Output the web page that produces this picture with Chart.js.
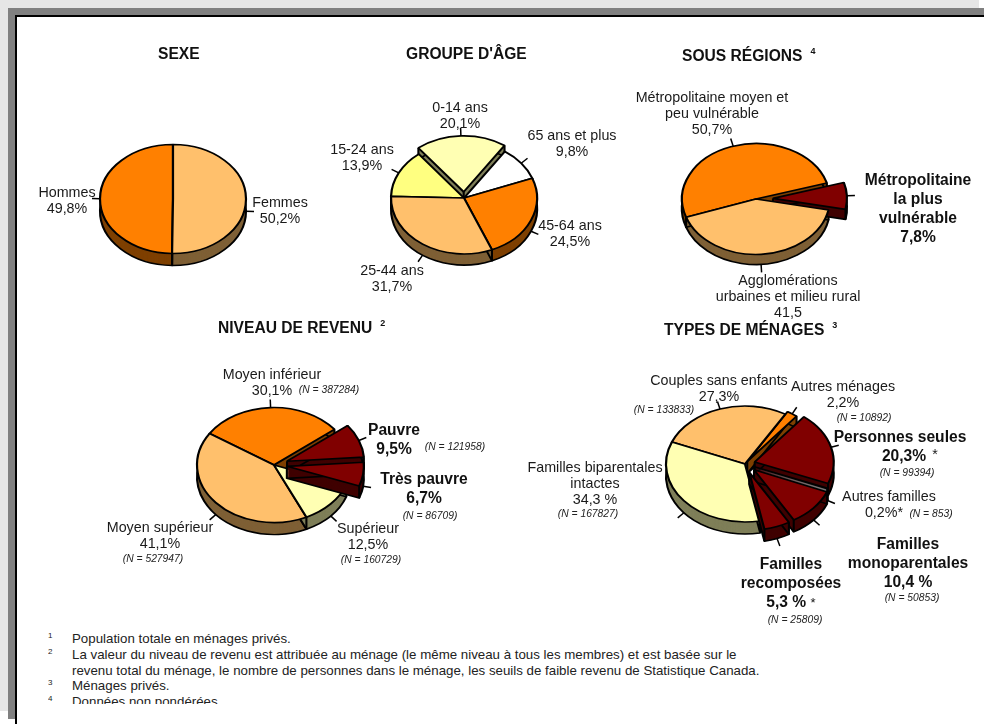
<!DOCTYPE html>
<html lang="fr"><head><meta charset="utf-8">
<script src="https://cdn.jsdelivr.net/npm/chart.js@4"></script>
<style>
html,body{margin:0;padding:0;background:#fff;overflow:hidden}
#page{position:relative;width:984px;height:724px;overflow:hidden;font-family:"Liberation Sans",Arial,sans-serif;color:#1a1a1a}
.b{position:absolute}
canvas{position:absolute}
.t{position:absolute;white-space:nowrap;text-align:center;transform:translateX(-50%);font-size:14.3px;line-height:16px}
.h{font-weight:bold;font-size:15.6px;line-height:19px;color:#111}
.title{position:absolute;white-space:nowrap;font-weight:bold;font-size:15.6px;line-height:18px;color:#111}
.title sup{font-size:9px;position:relative;top:-7px;vertical-align:baseline;margin-left:8px}
.n{position:absolute;white-space:nowrap;font-style:italic;font-size:10.3px;line-height:12px;transform:translateX(-50%);color:#222}
#notes{position:absolute;left:48px;top:631px;width:800px;height:73px;overflow:hidden;font-size:13.3px;line-height:15.8px;color:#222}
#notes div{position:relative;padding-left:24px;white-space:nowrap}
#notes sup{position:absolute;left:0;top:-3px;font-size:8px}
</style></head><body><div id="page">
<div class="b" style="left:0;top:0;width:979px;height:8px;background:#e6e6e6"></div>
<div class="b" style="left:0;top:0;width:8px;height:711px;background:#e6e6e6"></div>
<div class="b" style="left:8px;top:8px;width:976px;height:8px;background:#808080"></div>
<div class="b" style="left:8px;top:8px;width:8px;height:711px;background:#808080"></div>
<div class="b" style="left:15px;top:15px;width:969px;height:2px;background:#000"></div>
<div class="b" style="left:15px;top:15px;width:2px;height:709px;background:#000"></div>
<div id="notes"></div>
</div>
<script>
const ORANGE='#ff8000',PEACH='#ffc06c',PALE='#ffffb3',YELLOW='#ffff80',RED='#800000',WHITE='#ffffff';

const sexeValues=[50.2,49.8];
const sexeLabels=['Femmes','Hommes'];
const sexeColors=[PEACH,ORANGE];
const sexeOffsets=[0,0];

const ageValues=[9.8,24.5,31.7,13.9,20.1];
const ageLabels=['65 ans et plus','45-64 ans','25-44 ans','15-24 ans','0-14 ans'];
const ageColors=[WHITE,ORANGE,PEACH,YELLOW,PALE];
const ageOffsets=[0,0,0,0,8];

const regionValues=[7.8,41.5,50.7];
const regionLabels=['Métropolitaine la plus vulnérable','Agglomérations urbaines et milieu rural','Métropolitaine moyen et peu vulnérable'];
const regionColors=[RED,PEACH,ORANGE];
const regionOffsets=[17,0,0];

const revenuValues=[9.5,6.7,12.5,41.1,30.1];
const revenuLabels=['Pauvre','Très pauvre','Supérieur','Moyen supérieur','Moyen inférieur'];
const revenuColors=[RED,RED,PALE,PEACH,ORANGE];
const revenuOffsets=[14,13,0,0,0];

const menageValues=[27.3,2.2,20.3,0.2,10.4,5.3,34.3];
const menageLabels=['Couples sans enfants','Autres ménages','Personnes seules','Autres familles','Familles monoparentales','Familles recomposées','Familles biparentales intactes'];
const menageColors=[PEACH,ORANGE,RED,WHITE,RED,RED,PALE];
const menageOffsets=[0,4,10,10,12,12,0];

const pies=[
 {labels:sexeLabels,values:sexeValues,colors:sexeColors,offsets:sexeOffsets,rotation:0,cx:173,cy:198.5,rx:73,ry:54.5,depth:12},
 {labels:ageLabels,values:ageValues,colors:ageColors,offsets:ageOffsets,rotation:34,cx:464,cy:198,rx:73,ry:56,depth:11},
 {labels:regionLabels,values:regionValues,colors:regionColors,offsets:regionOffsets,rotation:73.3,cx:756,cy:198.5,rx:74,ry:55.5,depth:10},
 {labels:revenuLabels,values:revenuValues,colors:revenuColors,offsets:revenuOffsets,rotation:51.7,cx:274,cy:464.5,rx:77,ry:57.5,depth:12},
 {labels:menageLabels,values:menageValues,colors:menageColors,offsets:menageOffsets,rotation:292.4,cx:745,cy:464,rx:79,ry:58,depth:12}
];

function darker(c){const n=parseInt(c.slice(1),16);return 'rgb('+((n>>16)>>1)+','+(((n>>8)&255)>>1)+','+((n&255)>>1)+')';}

const pie3d={id:'pie3d',
 beforeDatasetDraw(chart){
  const o=chart.options.plugins.pie3d,ctx=chart.ctx,arcs=chart.getDatasetMeta(0).data,ds=chart.data.datasets[0];
  const k=o.k,d=o.depth,D=d/k;
  const items=arcs.map((a,i)=>{const p=a.getProps(['x','y','startAngle','endAngle','outerRadius'],true);
    const m=(p.startAngle+p.endAngle)/2;const off=ds.explode[i];
    return {a,i,p,m,off,ox:Math.cos(m)*off,oy:Math.sin(m)*off};});
  const cx=arcs[0].x,cy=arcs[0].y;
  const key=it=>Math.sin(it.m)*(it.p.outerRadius/2+it.off);
  items.sort((A,B)=>key(A)-key(B));
  const side=it=>{
    const {p,ox,oy}=it,x=p.x+ox,y=p.y+oy,col=darker(ds.backgroundColor[it.i]);
    const path=(dy)=>{ctx.beginPath();ctx.moveTo(x,y+dy);ctx.arc(x,y+dy,p.outerRadius,p.startAngle,p.endAngle);ctx.closePath();};
    ctx.fillStyle=col;
    for(let s=D;s>=0;s-=0.5){path(s);ctx.fill();}
    ctx.strokeStyle='#000';ctx.lineWidth=2.1;ctx.lineJoin='round';
    path(D);ctx.stroke();
    [p.startAngle,p.endAngle].forEach(t=>{ctx.beginPath();
      const rx=x+Math.cos(t)*p.outerRadius,ry=y+Math.sin(t)*p.outerRadius;
      ctx.moveTo(rx,ry);ctx.lineTo(rx,ry+D);ctx.stroke();});
    ctx.beginPath();ctx.moveTo(x,y);ctx.lineTo(x,y+D);ctx.stroke();
  };
  const top=it=>{ctx.save();ctx.translate(it.ox,it.oy);it.a.draw(ctx,chart.chartArea);ctx.restore();};
  ctx.save();
  ctx.translate(cx,cy);ctx.scale(1,k);ctx.translate(-cx,-cy);
  const fixed=items.filter(it=>!it.off);
  const back=items.filter(it=>it.off&&Math.sin(it.m)<0);
  const front=items.filter(it=>it.off&&Math.sin(it.m)>=0);
  fixed.forEach(side);
  back.forEach(it=>{side(it);top(it);});
  fixed.forEach(top);
  front.forEach(it=>{side(it);top(it);});
  ctx.restore();
  // leader ticks
  ctx.save();ctx.strokeStyle='#000';ctx.lineWidth=1.5;
  items.forEach(it=>{const {p,m,ox,oy}=it;
    const rimx=p.x+ox+Math.cos(m)*p.outerRadius;
    const rimy=cy+(p.y+oy-cy+Math.sin(m)*p.outerRadius)*k+(Math.sin(m)>0?d:0);
    ctx.beginPath();ctx.moveTo(rimx,rimy);ctx.lineTo(rimx+Math.cos(m)*8,rimy+Math.sin(m)*8);ctx.stroke();});
  ctx.restore();
  return false;
 }};

const page=document.getElementById('page');
const W=300,H=300;
pies.forEach(P=>{
  const c=document.createElement('canvas');
  c.style.left=(P.cx-W/2)+'px';c.style.top=(P.cy-H/2)+'px';c.style.width=W+'px';c.style.height=H+'px';
  c.width=W;c.height=H;page.appendChild(c);
  new Chart(c,{type:'pie',plugins:[pie3d],
   data:{labels:P.labels,datasets:[{data:P.values,backgroundColor:P.colors,borderColor:'#000',borderWidth:2.2,explode:P.offsets}]},
   options:{responsive:false,animation:false,radius:P.rx,rotation:P.rotation,layout:{padding:0},events:[],
    plugins:{legend:{display:false},tooltip:{enabled:false},pie3d:{k:P.ry/P.rx,depth:P.depth}}}});
});

function add(cls,x,y,html){const d=document.createElement('div');d.className=cls;d.style.left=x+'px';d.style.top=y+'px';d.innerHTML=html;page.appendChild(d);}
// titles
add('title',158,45,'SEXE');
add('title',406,45,"GROUPE D'ÂGE");
add('title',682,47,'SOUS RÉGIONS<sup>4</sup>');
add('title',218,319,'NIVEAU DE REVENU<sup>2</sup>');
add('title',664,321,'TYPES DE MÉNAGES<sup>3</sup>');
// plain labels
add('t',67,184,'Hommes<br>49,8%');
add('t',280,194,'Femmes<br>50,2%');
add('t',460,99,'0-14 ans<br>20,1%');
add('t',572,127,'65 ans et plus<br>9,8%');
add('t',362,141,'15-24 ans<br>13,9%');
add('t',570,217,'45-64 ans<br>24,5%');
add('t',392,262,'25-44 ans<br>31,7%');
add('t',712,89,'Métropolitaine moyen et<br>peu vulnérable<br>50,7%');
add('t',788,272,'Agglomérations<br>urbaines et milieu rural<br>41,5');
add('h t',918,170,'Métropolitaine<br>la plus<br>vulnérable<br>7,8%');
add('t',272,366,'Moyen inférieur<br>30,1%');
add('t',160,519,'Moyen supérieur<br>41,1%');
add('t',368,520,'Supérieur<br>12,5%');
add('h t',394,420,'Pauvre<br>9,5%');
add('h t',424,469,'Très pauvre<br>6,7%');
add('t',719,372,'Couples sans enfants<br>27,3%');
add('t',843,378,'Autres ménages<br>2,2%');
add('t',595,459,'Familles biparentales<br>intactes<br>34,3 %');
add('h t',900,427,'Personnes seules');
add('h t',904,446,'20,3%');
add('t',935,446,'*');
add('t',889,488,'Autres familles');
add('t',884,504,'0,2%*');
add('h t',908,534,'Familles<br>monoparentales<br>10,4 %');
add('h t',791,554,'Familles<br>recomposées<br>5,3 % <span style="font-weight:normal;font-size:13px">*</span>');
// N labels
add('n',329,384,'(N = 387284)');
add('n',455,441,'(N = 121958)');
add('n',430,510,'(N = 86709)');
add('n',153,553,'(N = 527947)');
add('n',371,554,'(N = 160729)');
add('n',664,404,'(N = 133833)');
add('n',864,412,'(N = 10892)');
add('n',588,508,'(N = 167827)');
add('n',907,467,'(N = 99394)');
add('n',931,508,'(N = 853)');
add('n',912,592,'(N = 50853)');
add('n',795,614,'(N = 25809)');
// footnotes
const footnotes=[
 ['1','Population totale en ménages privés.'],
 ['2','La valeur du niveau de revenu est attribuée au ménage (le même niveau à tous les membres) et est basée sur le'],
 ['','revenu total du ménage, le nombre de personnes dans le ménage, les seuils de faible revenu de Statistique Canada.'],
 ['3','Ménages privés.'],
 ['4','Données non pondérées']
];
document.getElementById('notes').innerHTML=footnotes.map(f=>'<div>'+(f[0]?'<sup>'+f[0]+'</sup>':'')+f[1]+'</div>').join('');
</script></body></html>
